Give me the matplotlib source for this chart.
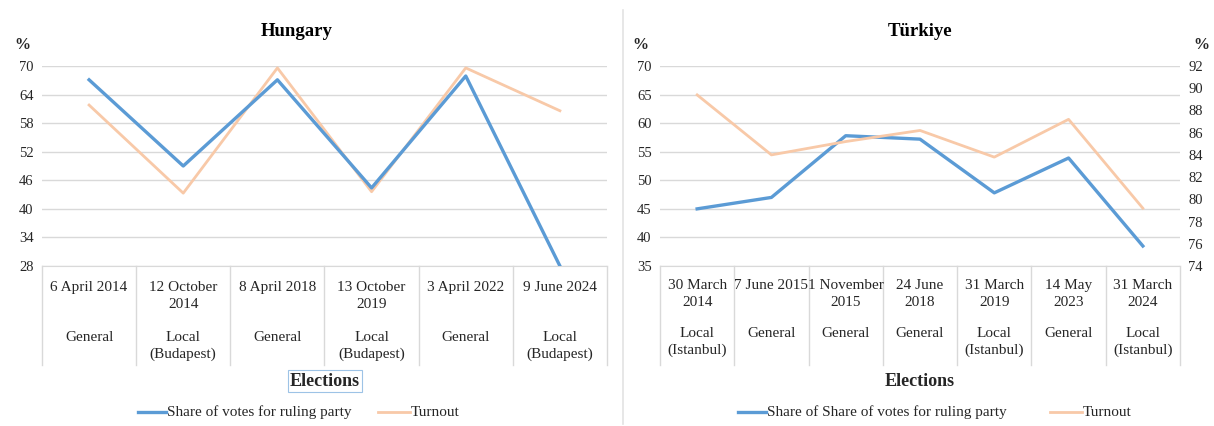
import matplotlib
matplotlib.use("Agg")
import matplotlib.pyplot as plt
from matplotlib.lines import Line2D
from matplotlib.transforms import blended_transform_factory

# ---- data ----
hu_dates = ["6 April 2014", "12 October\n2014", "8 April 2018", "13 October\n2019",
            "3 April 2022", "9 June 2024"]
hu_types = ["General", "Local\n(Budapest)", "General", "Local\n(Budapest)",
            "General", "Local\n(Budapest)"]
hu_share = [67.1, 49.0, 67.1, 44.4, 67.9, 28.0]
hu_turnout = [61.8, 43.3, 69.6, 43.6, 69.6, 60.6]
hu_yticks = [28, 34, 40, 46, 52, 58, 64, 70]

tr_dates = ["30 March\n2014", "7 June 2015", "1 November\n2015", "24 June\n2018",
            "31 March\n2019", "14 May\n2023", "31 March\n2024"]
tr_types = ["Local\n(Istanbul)", "General", "General", "General",
            "Local\n(Istanbul)", "General", "Local\n(Istanbul)"]
tr_share = [45.0, 47.0, 57.8, 57.2, 47.8, 53.9, 38.5]
tr_turnout = [89.4, 84.0, 85.2, 86.2, 83.8, 87.2, 79.2]
tr_yticks = [35, 40, 45, 50, 55, 60, 65, 70]
tr_y2ticks = [74, 76, 78, 80, 82, 84, 86, 88, 90, 92]

# ---- style ----
W, H = 1214, 426
DPI = 100
BLUE = "#5B9BD5"
ORANGE = "#F8C9A8"
GRID = "#D9D9D9"
TXT = "#262626"
plt.rcParams["font.family"] = ["Liberation Serif", "DejaVu Serif"]

fig = plt.figure(figsize=(W / DPI, H / DPI), dpi=DPI)


def fx(px):
    return px / W


def fy(py):
    return 1 - py / H


def panel(left, right, dates, types, share, turnout, yticks, title, title_x,
          date_top, type_top, y2ticks=None):
    top, bottom = 66, 266
    ax = fig.add_axes([fx(left), fy(bottom), fx(right - left), fy(top) - fy(bottom)])
    n = len(dates)
    x = list(range(n))
    ax.set_xlim(-0.5, n - 0.5)
    ax.set_ylim(yticks[0], yticks[-1])
    ax.set_yticks(yticks)
    ax.yaxis.grid(True, color=GRID, lw=1)
    ax.set_axisbelow(True)
    for s in ("top", "right", "left"):
        ax.spines[s].set_visible(False)
    ax.spines["bottom"].set_color(GRID)
    ax.set_xticks([])
    ax.tick_params(axis="y", length=0, labelsize=10.5, labelcolor=TXT, pad=6)

    ax.plot(x, share, color=BLUE, lw=2.4, zorder=4)
    if y2ticks is None:
        ax.plot(x, turnout, color=ORANGE, lw=2.0, zorder=3)
    else:
        ax2 = ax.twinx()
        ax2.set_ylim(y2ticks[0], y2ticks[-1])
        ax2.set_yticks(y2ticks)
        for s in ax2.spines.values():
            s.set_visible(False)
        ax2.tick_params(axis="y", length=0, labelsize=10.5, labelcolor=TXT, pad=6)
        ax2.plot(x, turnout, color=ORANGE, lw=2.0, zorder=3)
        fig.text(fx(right + 21), fy(45), "%", fontsize=11.5, fontweight="bold",
                 color=TXT, ha="center", va="center")

    # category separators of the two-level axis
    tr = blended_transform_factory(ax.transData, fig.transFigure)
    for b in [i - 0.5 for i in range(n + 1)]:
        ax.add_line(Line2D([b, b], [fy(bottom), fy(365)], transform=tr,
                           color=GRID, lw=1, clip_on=False))
    for i in range(n):
        ax.text(i, fy(date_top), dates[i], transform=tr, ha="center", va="top",
                fontsize=11, color=TXT, linespacing=1.38)
        ax.text(i, fy(type_top), types[i], transform=tr, ha="center", va="top",
                fontsize=11, color=TXT, linespacing=1.38)

    fig.text(fx(title_x), fy(32), title, fontsize=13.5, fontweight="bold",
             color="black", ha="center", va="center")
    fig.text(fx(left - 20), fy(45), "%", fontsize=11.5, fontweight="bold",
             color=TXT, ha="center", va="center")
    return ax


panel(42, 607, hu_dates, hu_types, hu_share, hu_turnout, hu_yticks,
      "Hungary", 297, 281, 331)
panel(660, 1180, tr_dates, tr_types, tr_share, tr_turnout, tr_yticks,
      "Türkiye", 920, 279, 327, y2ticks=tr_y2ticks)

# axis titles
fig.text(fx(325), fy(381), "Elections", fontsize=13, fontweight="bold",
         color=TXT, ha="center", va="center",
         bbox=dict(boxstyle="square,pad=0.12", fc="white", ec="#9DC3E6", lw=0.8))
fig.text(fx(920), fy(381), "Elections", fontsize=13, fontweight="bold",
         color=TXT, ha="center", va="center")


# legends
def legend(x0, label1, x1, label2, y=412):
    fig.add_artist(Line2D([fx(x0 - 28), fx(x0)], [fy(y), fy(y)], color=BLUE, lw=2.4))
    fig.text(fx(x0 + 1), fy(y), label1, fontsize=11, color=TXT, ha="left", va="center")
    fig.add_artist(Line2D([fx(x1 - 32), fx(x1)], [fy(y), fy(y)], color=ORANGE, lw=2.0))
    fig.text(fx(x1 + 1), fy(y), label2, fontsize=11, color=TXT, ha="left", va="center")


legend(166, "Share of votes for ruling party", 410, "Turnout")
legend(766, "Share of Share of votes for ruling party", 1082, "Turnout")

# panel divider
fig.add_artist(Line2D([fx(623), fx(623)], [fy(10), fy(424)], color="#E3E3E3", lw=1.2))

fig.savefig("out.png", dpi=DPI)
